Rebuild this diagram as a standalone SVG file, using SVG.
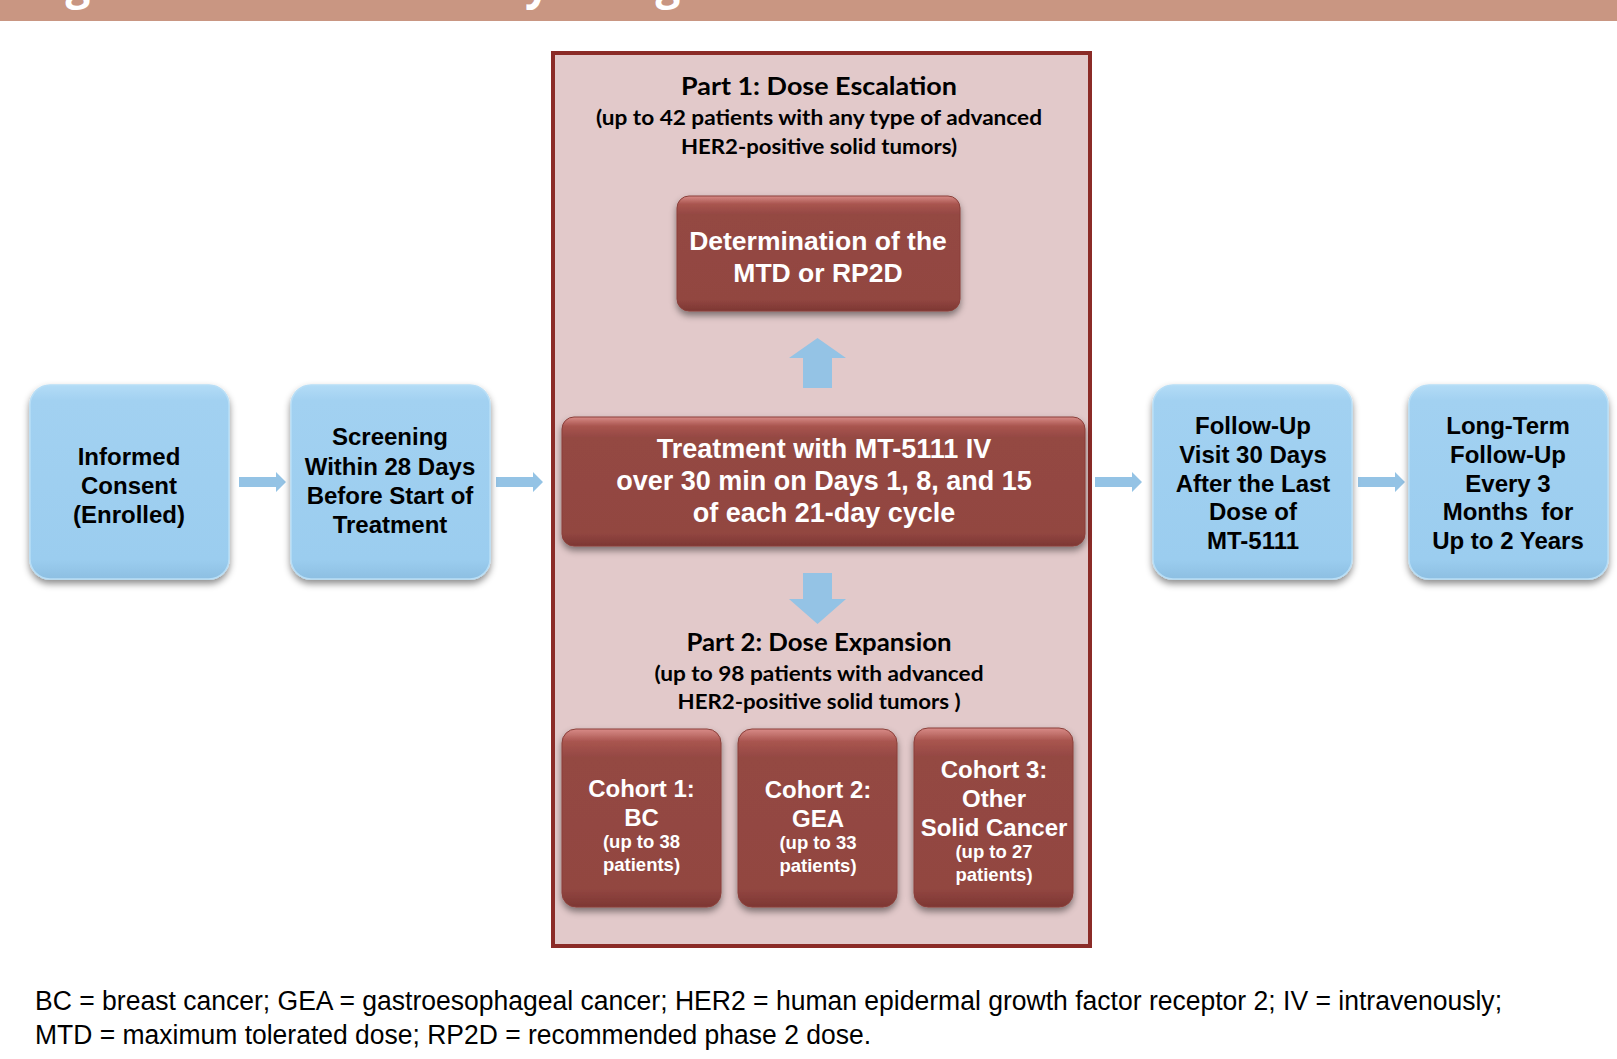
<svg xmlns="http://www.w3.org/2000/svg" width="1617" height="1059" viewBox="0 0 1617 1059">
<defs>
  <linearGradient id="gBlue" x1="0" y1="0" x2="0" y2="1">
    <stop offset="0" stop-color="#B3DCF6"/>
    <stop offset="0.08" stop-color="#A2D1F1"/>
    <stop offset="0.9" stop-color="#9BCDEF"/>
    <stop offset="1" stop-color="#8DBFE2"/>
  </linearGradient>
  <linearGradient id="gRed" x1="0" y1="0" x2="0" y2="1">
    <stop offset="0" stop-color="#D88B87"/>
    <stop offset="0.07" stop-color="#A9554F"/>
    <stop offset="0.16" stop-color="#944843"/>
    <stop offset="0.9" stop-color="#924641"/>
    <stop offset="1" stop-color="#7D3733"/>
  </linearGradient>
  <filter id="shadow" x="-10%" y="-10%" width="120%" height="130%">
    <feDropShadow dx="0" dy="4" stdDeviation="3.5" flood-color="#000" flood-opacity="0.45"/>
  </filter>
  <style>
    .blue { fill: url(#gBlue); stroke: #B8DEF6; stroke-width: 1.5; filter: url(#shadow); }
    .red { fill: url(#gRed); stroke: #8A3F3A; stroke-width: 1; filter: url(#shadow); }
    .arrow { fill: #94C3E5; }
    .btxt { font-family: "Liberation Sans", Arial, sans-serif; font-weight: bold; font-size: 24px; fill: #000; text-anchor: middle; }
    .wtxt { font-family: "Liberation Sans", Arial, sans-serif; font-weight: bold; fill: #fff; text-anchor: middle; }
    .ttl { font-family: Lato, "Open Sans", sans-serif; font-weight: bold; fill: #000; text-anchor: middle; }
    .foot { font-family: "Liberation Sans", Arial, sans-serif; font-size: 27px; fill: #000; }
  </style>
</defs>
<rect width="1617" height="1059" fill="#fff"/>
<g id="header">
  <rect x="0" y="0" width="1617" height="21" fill="#C99682"/>
  <text x="28" y="-1" font-family="'Open Sans', sans-serif" font-weight="bold" font-size="44" fill="#fff">Figure 1<tspan x="425">Study Design</tspan></text>
</g>
<g id="frame">
  <rect x="553" y="53" width="537" height="893" fill="#E2C9CA" stroke="#8B2B27" stroke-width="4"/>
  <text class="ttl" x="819" y="95" font-size="25" textLength="276" lengthAdjust="spacingAndGlyphs">Part 1: Dose Escalation</text>
  <text class="ttl" x="819" y="125" font-size="21" textLength="446" lengthAdjust="spacingAndGlyphs">(up to 42 patients with any type of advanced</text>
  <text class="ttl" x="819" y="154" font-size="21" textLength="276" lengthAdjust="spacingAndGlyphs">HER2-positive solid tumors)</text>
  <text class="ttl" x="819" y="651" font-size="25" textLength="265" lengthAdjust="spacingAndGlyphs">Part 2: Dose Expansion</text>
  <text class="ttl" x="819" y="681" font-size="21" textLength="329" lengthAdjust="spacingAndGlyphs">(up to 98 patients with advanced</text>
  <text class="ttl" x="819" y="709" font-size="21" textLength="283" lengthAdjust="spacingAndGlyphs">HER2-positive solid tumors )</text>
</g>
<g id="connectors">
  <polygon class="arrow" points="239,477 276,477 276,472 286,482 276,492 276,487 239,487"/>
  <polygon class="arrow" points="496,477 533,477 533,472 543,482 533,492 533,487 496,487"/>
  <polygon class="arrow" points="1095,477 1132,477 1132,472 1142,482 1132,492 1132,487 1095,487"/>
  <polygon class="arrow" points="1358,477 1395,477 1395,472 1405,482 1395,492 1395,487 1358,487"/>
  <polygon class="arrow" points="817.5,338 846,358 832,358 832,388 803,388 803,358 789,358"/>
  <polygon class="arrow" points="803,573 832,573 832,599 846,599 817.5,624 789,599 803,599"/>
</g>
<g id="consent">
  <rect class="blue" x="30" y="385" width="199" height="194" rx="20"/>
  <text class="btxt" x="129" y="465">Informed</text>
  <text class="btxt" x="129" y="494">Consent</text>
  <text class="btxt" x="129" y="523">(Enrolled)</text>
</g>
<g id="screening">
  <rect class="blue" x="291" y="385" width="199" height="194" rx="20"/>
  <text class="btxt" x="390" y="445">Screening</text>
  <text class="btxt" x="390" y="475">Within 28 Days</text>
  <text class="btxt" x="390" y="504">Before Start of</text>
  <text class="btxt" x="390" y="533">Treatment</text>
</g>
<g id="determination">
  <rect class="red" x="677" y="196" width="283" height="115" rx="12"/>
  <text class="wtxt" x="818" y="250" font-size="26.5">Determination of the</text>
  <text class="wtxt" x="818" y="282" font-size="26.5">MTD or RP2D</text>
</g>
<g id="treatment">
  <rect class="red" x="562" y="417" width="523" height="129" rx="12"/>
  <text class="wtxt" x="824" y="458" font-size="27">Treatment with MT-5111 IV</text>
  <text class="wtxt" x="824" y="490" font-size="27">over 30 min on Days 1, 8, and 15</text>
  <text class="wtxt" x="824" y="522" font-size="27">of each 21-day cycle</text>
</g>
<g id="cohort1">
  <rect class="red" x="562" y="729" width="159" height="178" rx="14"/>
  <text class="wtxt" x="641.5" y="797" font-size="24">Cohort 1:</text>
  <text class="wtxt" x="641.5" y="826" font-size="24">BC</text>
  <text class="wtxt" x="641.5" y="848" font-size="18.5">(up to 38</text>
  <text class="wtxt" x="641.5" y="871" font-size="18.5">patients)</text>
</g>
<g id="cohort2">
  <rect class="red" x="738" y="729" width="159" height="178" rx="14"/>
  <text class="wtxt" x="818" y="798" font-size="24">Cohort 2:</text>
  <text class="wtxt" x="818" y="827" font-size="24">GEA</text>
  <text class="wtxt" x="818" y="849" font-size="18.5">(up to 33</text>
  <text class="wtxt" x="818" y="872" font-size="18.5">patients)</text>
</g>
<g id="cohort3">
  <rect class="red" x="914" y="728" width="159" height="179" rx="14"/>
  <text class="wtxt" x="994" y="778" font-size="24">Cohort 3:</text>
  <text class="wtxt" x="994" y="807" font-size="24">Other</text>
  <text class="wtxt" x="994" y="836" font-size="24">Solid Cancer</text>
  <text class="wtxt" x="994" y="858" font-size="18.5">(up to 27</text>
  <text class="wtxt" x="994" y="881" font-size="18.5">patients)</text>
</g>
<g id="followup">
  <rect class="blue" x="1153" y="385" width="199" height="194" rx="20"/>
  <text class="btxt" x="1253" y="433.5">Follow-Up</text>
  <text class="btxt" x="1253" y="462.5">Visit 30 Days</text>
  <text class="btxt" x="1253" y="491.5">After the Last</text>
  <text class="btxt" x="1253" y="520">Dose of</text>
  <text class="btxt" x="1253" y="548.5">MT-5111</text>
</g>
<g id="longterm">
  <rect class="blue" x="1409" y="385" width="199" height="194" rx="20"/>
  <text class="btxt" x="1508" y="433.5">Long-Term</text>
  <text class="btxt" x="1508" y="462.5">Follow-Up</text>
  <text class="btxt" x="1508" y="491.5">Every 3</text>
  <text class="btxt" x="1508" y="520">Months&#160; for</text>
  <text class="btxt" x="1508" y="548.5">Up to 2 Years</text>
</g>
<g id="footnote">
  <text class="foot" x="35" y="1010" textLength="1467" lengthAdjust="spacingAndGlyphs">BC = breast cancer; GEA = gastroesophageal cancer; HER2 = human epidermal growth factor receptor 2; IV = intravenously;</text>
  <text class="foot" x="35" y="1044" textLength="836" lengthAdjust="spacingAndGlyphs">MTD = maximum tolerated dose; RP2D = recommended phase 2 dose.</text>
</g>
</svg>
